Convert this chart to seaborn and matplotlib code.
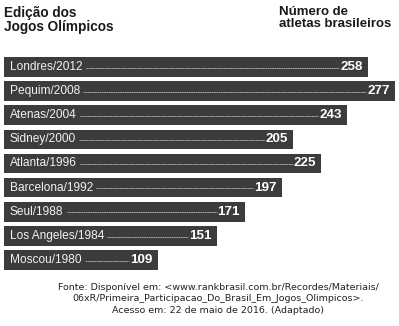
import matplotlib
matplotlib.use('Agg')
import matplotlib.pyplot as plt
import seaborn as sns
import pandas as pd

editions = ["Londres/2012", "Pequim/2008", "Atenas/2004", "Sidney/2000", "Atlanta/1996",
            "Barcelona/1992", "Seul/1988", "Los Angeles/1984", "Moscou/1980"]
athletes = [258, 277, 243, 205, 225, 197, 171, 151, 109]

header_left = "Edição dos\nJogos Olímpicos"
header_right = "Número de\natletas brasileiros"
footer = ("Fonte: Disponível em: <www.rankbrasil.com.br/Recordes/Materiais/\n"
          "06xR/Primeira_Participacao_Do_Brasil_Em_Jogos_Olimpicos>.\n"
          "Acesso em: 22 de maio de 2016. (Adaptado)")

sns.set_theme(style='white')
plt.rcParams['font.family'] = ['Liberation Sans', 'DejaVu Sans']

W, H = 399, 326
fig = plt.figure(figsize=(W / 100, H / 100), dpi=100)
ax = fig.add_axes([4 / W, 1 - 272 / H, 395 / W, 217 / H])
df = pd.DataFrame({'edicao': editions, 'atletas': athletes})
sns.barplot(data=df, x='atletas', y='edicao', orient='h', color='#3c3c3c',
            saturation=1, width=0.82, linewidth=0, ax=ax)
pxu = 1.41
ax.set_xlim(0, 395 / pxu)
ax.set_ylim(8.5, -0.5)
ax.axis('off')

labels = []
values = []
for i, (e, v) in enumerate(zip(editions, athletes)):
    t1 = ax.text(6 / pxu, i, e, color='#f2f2f2', fontsize=8.6, va='center', ha='left')
    t2 = ax.text(v - 5 / pxu, i, str(v), color='white', fontsize=9.6, fontweight='bold',
                 va='center', ha='right')
    labels.append(t1)
    values.append(t2)

fig.canvas.draw()
r = fig.canvas.get_renderer()
inv = ax.transData.inverted()
for i, (t1, t2) in enumerate(zip(labels, values)):
    b1 = t1.get_window_extent(r)
    b2 = t2.get_window_extent(r)
    x0 = inv.transform((b1.x1 + 3, 0))[0]
    x1 = inv.transform((b2.x0 - 1, 0))[0]
    ax.plot([x0, x1], [i + 0.03, i + 0.03], color='#d8d8d8', lw=0.5,
            linestyle=(0, (2.5, 0.8)))

fig.text(4 / W, 1 - 6 / H, header_left, fontsize=9.8, fontweight='bold', color='#1a1a1a',
         ha='left', va='top', linespacing=1.0)
fig.text(279 / W, 1 - 6 / H, header_right, fontsize=9.5, fontweight='bold', color='#1a1a1a',
         ha='left', va='top', linespacing=1.03)
fig.text(218 / W, 1 - 283 / H, footer, fontsize=6.8, family='DejaVu Sans', color='#222222',
         ha='center', va='top', linespacing=1.35)

fig.savefig('out.png', dpi=100)
